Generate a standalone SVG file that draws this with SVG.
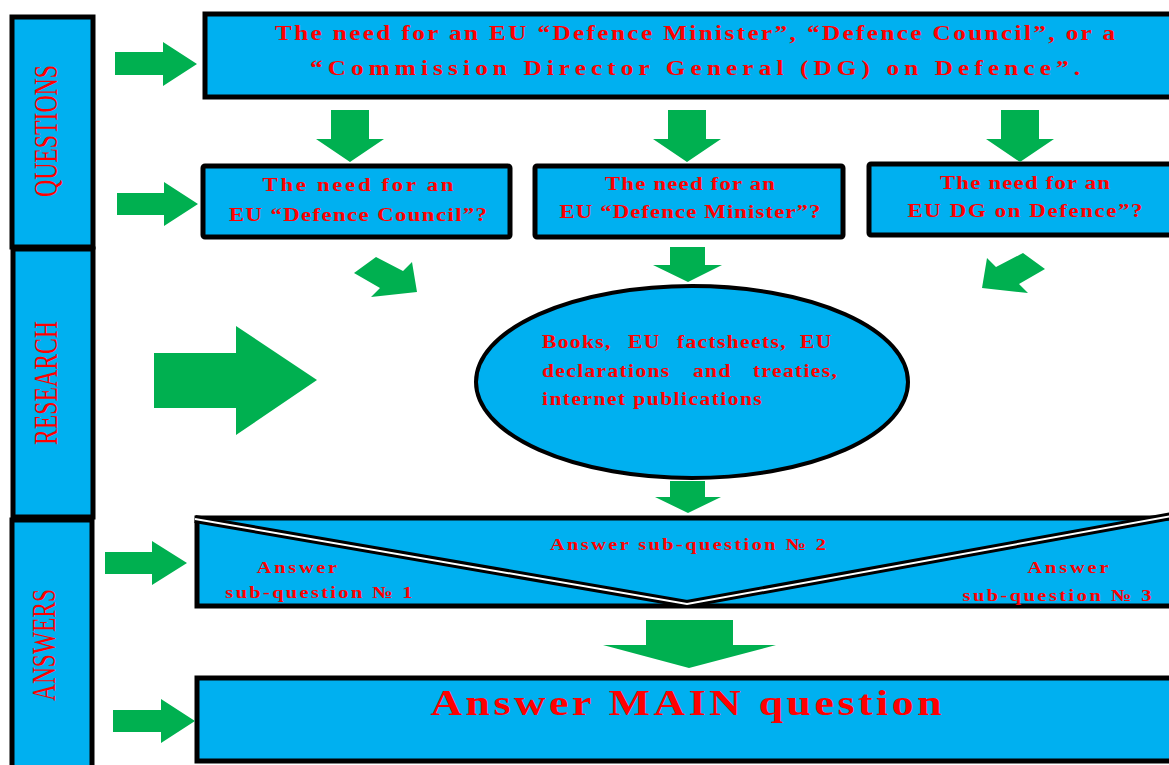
<svg xmlns="http://www.w3.org/2000/svg" width="1169" height="765" viewBox="0 0 1169 765">
<style>
.box{fill:#00B0F0;stroke:#000;stroke-width:5}
.arr{fill:#00B050}
.t{font-family:"Liberation Serif",serif;font-weight:bold;fill:#FF0000;text-anchor:middle}
.l{text-anchor:start;letter-spacing:1.1px}
.side{font-family:"Liberation Serif",serif;fill:#FF0000;text-anchor:middle;font-size:34px}
</style>
<rect width="1169" height="765" fill="#fff"/>
<g id="side-questions">
<rect class="box" x="12" y="17" width="81" height="230"/>
<text class="side" transform="translate(57,131) rotate(-90)" textLength="132" lengthAdjust="spacingAndGlyphs">QUESTIONS</text>
</g>
<g id="side-research">
<rect class="box" x="13" y="249" width="80" height="268"/>
<text class="side" transform="translate(57,383) rotate(-90)" textLength="124" lengthAdjust="spacingAndGlyphs">RESEARCH</text>
</g>
<g id="side-answers">
<rect class="box" x="12" y="520" width="80" height="250"/>
<text class="side" transform="translate(55,645) rotate(-90)" textLength="112" lengthAdjust="spacingAndGlyphs">ANSWERS</text>
</g>
<g id="main-question">
<rect class="box" x="205" y="14" width="970" height="83"/>
<g transform="scale(1.2,1)">
<text class="t" x="579.17" y="40" font-size="21" textLength="700" lengthAdjust="spacing">The need for an EU “Defence Minister”, “Defence Council”, or a</text>
<text class="t" x="579.17" y="75" font-size="21" textLength="641.7" lengthAdjust="spacing">“Commission Director General (DG) on Defence”.</text>
</g>
</g>
<g id="sub-council">
<rect class="box" x="203" y="166" width="307" height="71" rx="2"/>
<g transform="scale(1.2,1)">
<text class="t" x="298.33" y="191" font-size="19" textLength="159" lengthAdjust="spacing">The need for an</text>
<text class="t" x="298.33" y="221" font-size="19" textLength="215" lengthAdjust="spacing">EU “Defence Council”?</text>
</g>
</g>
<g id="sub-minister">
<rect class="box" x="535" y="166" width="308" height="71" rx="2"/>
<g transform="scale(1.2,1)">
<text class="t" x="575" y="190" font-size="19" textLength="141.7" lengthAdjust="spacing">The need for an</text>
<text class="t" x="575" y="218" font-size="19" textLength="217.5" lengthAdjust="spacing">EU “Defence Minister”?</text>
</g>
</g>
<g id="sub-dg">
<rect class="box" x="869" y="164" width="305" height="71" rx="2"/>
<g transform="scale(1.2,1)">
<text class="t" x="854.17" y="189" font-size="19" textLength="141.7" lengthAdjust="spacing">The need for an</text>
<text class="t" x="854.17" y="217" font-size="19" textLength="195.8" lengthAdjust="spacing">EU DG on Defence”?</text>
</g>
</g>
<g id="sources">
<ellipse cx="692" cy="382" rx="216" ry="96" fill="#00B0F0" stroke="#000" stroke-width="4"/>
<g transform="scale(1.2,1)">
<text class="t l" y="348" font-size="18"><tspan x="451.67">Books,</tspan><tspan x="523.33">EU</tspan><tspan x="564.17">factsheets,</tspan><tspan x="666.67">EU</tspan></text>
<text class="t l" y="377" font-size="18"><tspan x="451.67">declarations</tspan><tspan x="577.5">and</tspan><tspan x="627.5">treaties,</tspan></text>
<text class="t l" x="451.67" y="405" font-size="18" textLength="184.2" lengthAdjust="spacing">internet publications</text>
</g>
</g>
<g id="sub-answers">
<rect class="box" x="197" y="518" width="980" height="88"/>
<polyline points="195,519 687,604 1172,516" fill="none" stroke="#000" stroke-width="8"/>
<polyline points="195,519 687,604 1172,516" fill="none" stroke="#fff" stroke-width="2"/>
<g transform="scale(1.2,1)">
<text class="t" x="573.33" y="550" font-size="17" textLength="230" lengthAdjust="spacing">Answer sub-question № 2</text>
<text class="t" x="247.5" y="573" font-size="17" textLength="67" lengthAdjust="spacing">Answer</text>
<text class="t" x="265.8" y="598" font-size="17" textLength="156" lengthAdjust="spacing">sub-question № 1</text>
<text class="t" x="890" y="573" font-size="17" textLength="67.5" lengthAdjust="spacing">Answer</text>
<text class="t" x="880.83" y="601" font-size="17" textLength="157.5" lengthAdjust="spacing">sub-question № 3</text>
</g>
</g>
<g id="main-answer">
<rect class="box" x="197" y="678" width="980" height="83"/>
<text class="t" transform="scale(1.25,1)" x="548.8" y="715" font-size="35" textLength="408.8" lengthAdjust="spacing">Answer MAIN question</text>
</g>
<g id="connectors">
<polygon class="arr" points="115,52 163,52 163,42 197,64 163,86 163,75 115,75"/>
<polygon class="arr" points="117,193 164,193 164,182 198,204 164,226 164,215 117,215"/>
<polygon class="arr" points="105,552 152,552 152,541 187,563 152,585 152,574 105,574"/>
<polygon class="arr" points="113,710 161,710 161,699 195,721 161,743 161,732 113,732"/>
<polygon class="arr" points="154,353 236,353 236,326 317,380 236,435 236,408 154,408"/>
<polygon class="arr" points="331,110 369,110 369,139 384,139 350,162 316,139 331,139"/>
<polygon class="arr" points="668,110 706,110 706,139 721,139 687,162 653,139 668,139"/>
<polygon class="arr" points="1001,110 1039,110 1039,139 1054,139 1020,162 986,139 1001,139"/>
<polygon class="arr" points="354,273 376,257 403,271 412,262 417,292 371,297 380,288"/>
<polygon class="arr" points="1045,269 1023,253 996,267 987,258 982,288 1028,293 1019,284"/>
<polygon class="arr" points="670,247 705,247 705,265 722,265 688,282 653,265 670,265"/>
<polygon class="arr" points="670,481 705,481 705,497 721,497 688,513 655,497 670,497"/>
<polygon class="arr" points="646,620 733,620 733,645 776,645 689,668 603,645 646,645"/>
</g>
</svg>
